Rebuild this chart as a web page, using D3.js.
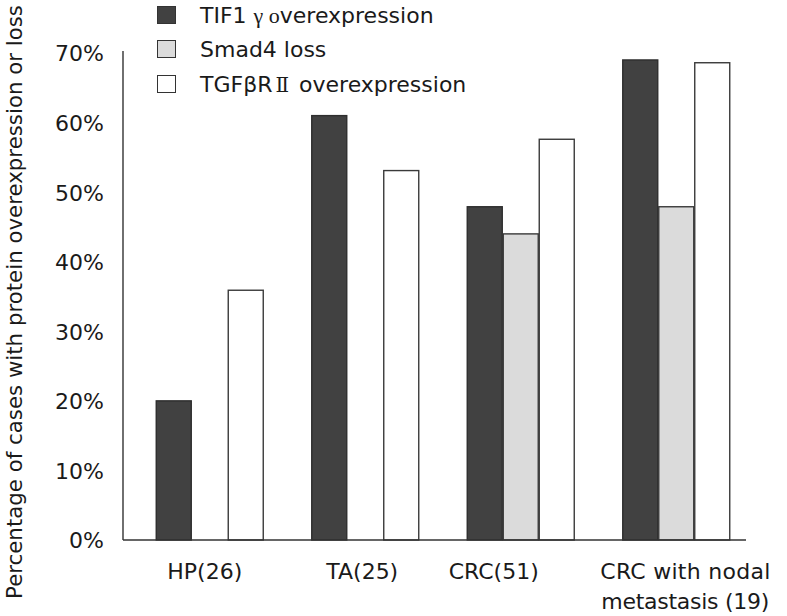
<!DOCTYPE html>
<html>
<head>
<meta charset="utf-8">
<script src="https://cdn.jsdelivr.net/npm/d3@7"></script>
<style>
  html, body { margin: 0; padding: 0; background: #fff; }
  svg { display: block; }
  text { font-family: "DejaVu Sans", Verdana, sans-serif; fill: #1a1a1a; }
</style>
</head>
<body>
<svg id="chart" width="787" height="616"></svg>
<script>
// ---- data ----
const categories = ["HP(26)", "TA(25)", "CRC(51)", "CRC with nodal metastasis (19)"];
const seriesNames = ["TIF1γ overexpression", "Smad4 loss", "TGFβRII overexpression"];
const tif1g   = [20.0, 61.0, 47.9, 69.0];
const smad4   = [0,    0,    44.0, 47.9];
const tgfbr2  = [35.9, 53.1, 57.6, 68.6];
const yTicks  = [0, 10, 20, 30, 40, 50, 60, 70];
const tickLabels = ["0%", "10%", "20%", "30%", "40%", "50%", "60%", "70%"];

// ---- layout ----
const W = 787, H = 616;
const baseY = 540, topY = 53;
const axisX = 123, axisEnd = 746;
const colors = ["#414141", "#dbdbdb", "#ffffff"];
const strokes = ["#2e2e2e", "#3a3a3a", "#3a3a3a"];
const labelDx = [-5, -3, -27, 9];

const svg = d3.select("#chart");
const series = [tif1g, smad4, tgfbr2];
const rows = categories.map((c, i) => ({ cat: c, vals: series.map(s => s[i]) }));

const x0 = d3.scaleBand().domain(categories).range([132, 754])
  .paddingInner(0.3055).paddingOuter(0.15275);
const x1 = d3.scaleBand().domain(d3.range(series.length)).range([0, x0.bandwidth()]);
const y = d3.scaleLinear().domain([0, 70]).range([baseY, topY]);

// bars
const g = svg.append("g");
g.selectAll("g.grp").data(rows).join("g")
  .attr("transform", d => `translate(${x0(d.cat)},0)`)
  .selectAll("rect").data(d => d.vals.map((v, k) => ({ v, k })))
  .join("rect")
  .attr("x", d => x1(d.k) + 0.5)
  .attr("y", d => y(d.v))
  .attr("width", x1.bandwidth() - 1)
  .attr("height", d => baseY - y(d.v))
  .attr("fill", d => colors[d.k])
  .attr("stroke", d => d.v > 0 ? strokes[d.k] : "none")
  .attr("stroke-width", 1.4);

// axes lines
svg.append("line").attr("x1", axisX).attr("x2", axisX).attr("y1", topY - 2).attr("y2", baseY)
  .attr("stroke", "#333").attr("stroke-width", 1.4);
svg.append("line").attr("x1", axisX).attr("x2", axisEnd).attr("y1", baseY).attr("y2", baseY)
  .attr("stroke", "#333").attr("stroke-width", 1.4);

// y tick labels (no tick marks)
const yAxis = d3.axisLeft(y).tickValues(yTicks).tickSize(0).tickPadding(0)
  .tickFormat((d, i) => tickLabels[i]);
const ya = svg.append("g").attr("transform", `translate(104,0)`).call(yAxis);
ya.select(".domain").remove();
ya.selectAll("text").style("font-size", "22px").attr("fill", "#1a1a1a")
  .style("font-family", '"DejaVu Sans", Verdana, sans-serif').attr("dy", "0.36em");

// y axis title
const yt = svg.append("text")
  .attr("transform", `translate(22,${302}) rotate(-90)`)
  .attr("text-anchor", "middle")
  .style("font-size", "21px")
  .text("Percentage of cases with protein overexpression or loss");
const tl = yt.node().getComputedTextLength();
yt.style("font-size", (21 * 594 / tl).toFixed(2) + "px");

// x labels
rows.forEach((d, i) => {
  const cx = x0(d.cat) + x0.bandwidth() / 2 + labelDx[i];
  if (i < 3) {
    svg.append("text").attr("x", cx).attr("y", 579).attr("text-anchor", "middle")
      .style("font-size", "22px").text(d.cat);
  } else {
    const lines = ["CRC with nodal", "metastasis (19)"];
    const lens = [170, 168];
    lines.forEach((ln, j) => {
      svg.append("text").attr("x", cx - lens[j] / 2).attr("y", 579 + j * 30)
        .attr("textLength", lens[j]).attr("lengthAdjust", "spacing")
        .style("font-size", "22px").text(ln);
    });
  }
});

// legend
const legend = svg.append("g");
const legY = [23, 57, 92];
seriesNames.forEach((name, k) => {
  legend.append("rect").attr("x", 157.5).attr("y", legY[k] - 16.5).attr("width", 18).attr("height", 17)
    .attr("fill", colors[k]).attr("stroke", "#333").attr("stroke-width", 1);
  const t = legend.append("text").attr("x", 200).attr("y", legY[k]).style("font-size", "22px");
  if (k === 0) {
    t.append("tspan").text("TIF1 ");
    t.append("tspan").style("font-family", '"Liberation Serif", serif').text("γ ο");
    t.append("tspan").text("verexpression");
  } else if (k === 2) {
    t.append("tspan").text("TGFβR");
    t.append("tspan").attr("dx", 3).style("font-family", '"DejaVu Serif", serif').style("font-size", "20px").text("Ⅱ");
    t.append("tspan").attr("dx", 10).text("overexpression");
  } else {
    t.text(name);
  }
});
</script>
</body>
</html>
